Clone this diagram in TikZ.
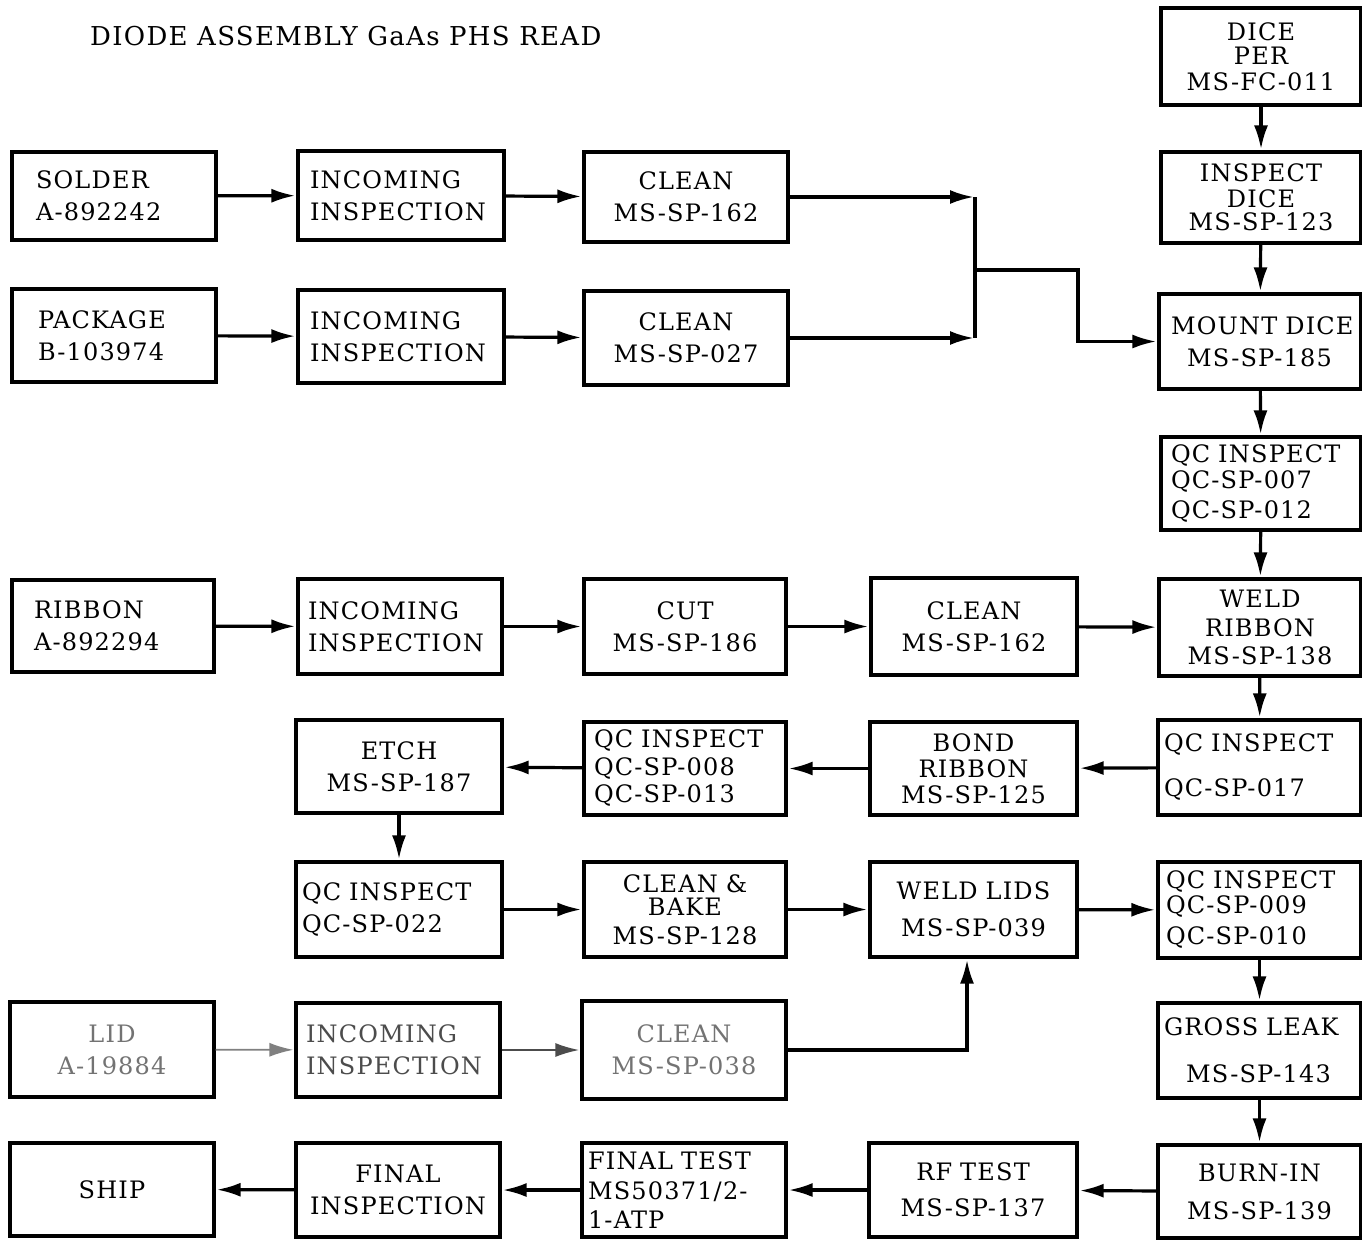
\documentclass[tikz,border=0pt]{standalone}
\usepackage{fontspec}
\setmainfont{DejaVu Serif}[LetterSpace=5]
\usetikzlibrary{arrows.meta}
\newcommand\boxfont{\fontsize{24}{32}\selectfont}
\begin{document}
\begin{tikzpicture}[x=1pt,y=-1pt,
  box/.style={draw, line width=3.2pt, inner ysep=0pt, font=\boxfont},
  C/.style={align=center, inner xsep=4pt, text width=#1pt-8pt},
  L/.style={align=left},
  faded/.style={text=black!55},
  arr/.style={line width=3.2pt, -{Latex[length=24pt,width=14pt]}, shorten >=1pt},
  ln/.style={line width=3.2pt},
  title/.style={font=\fontsize{26}{28}\selectfont, inner sep=0pt}
]
\useasboundingbox[fill=white] (0,0) rectangle (1362,1239);

\node[title, anchor=base west] (title) at (90,46) {DIODE ASSEMBLY GaAs PHS READ};

% right column
\node[box, C=200, minimum height=97pt] (dice) at (1261,56.5) {DICE\\[-8pt]PER\\[-6pt]MS-FC-011};
\node[box, C=200, minimum height=91pt] (inspdice) at (1261,197.5) {INSPECT\\[-6pt]DICE\\[-9pt]MS-SP-123};
\node[box, L, inner xsep=12pt, text width=178pt, minimum height=95pt] (mount) at (1260,341.5) {\mbox{MOUNT DICE}\\\hspace*{16pt}MS-SP-185};
\node[box, L, inner xsep=10pt, text width=180pt, minimum height=93pt] (qc007) at (1261,483.5) {\mbox{QC INSPECT}\\[-6pt]QC-SP-007\\[-2pt]QC-SP-012};
\node[box, C=202, minimum height=97pt] (weldrib) at (1260,627.5) {WELD\\[-3pt]RIBBON\\[-4pt]MS-SP-138};
\node[box, L, inner xsep=6pt, text width=191pt, minimum height=95pt] (qc017) at (1259.5,767.5) {\mbox{QC INSPECT}\\[13pt]QC-SP-017};
\node[box, L, inner xsep=8pt, text width=187pt, minimum height=96pt] (qc009) at (1259.5,910) {\mbox{QC INSPECT}\\[-7pt]QC-SP-009\\[-1pt]QC-SP-010};
\node[box, L, inner xsep=6pt, text width=191pt, minimum height=95pt] (gross) at (1259.5,1050.5) {\mbox{GROSS LEAK}\\[15pt]\hspace*{22pt}MS-SP-143};
\node[box, C=203, minimum height=93pt] (burnin) at (1259.5,1191.5) {BURN-IN\\[6pt]MS-SP-139};

% rows 1-2
\node[box, L, inner xsep=24pt, text width=156pt, minimum height=88pt] (solder) at (114,196) {SOLDER\\A-892242};
\node[box, L, inner xsep=12pt, text width=182pt, minimum height=89pt] (inc1) at (401,195.5) {INCOMING\\INSPECTION};
\node[box, C=204, minimum height=90pt] (clean162) at (686,197) {CLEAN\\MS-SP-162};
\node[box, L, inner xsep=26pt, text width=152pt, minimum height=93pt] (package) at (114,335.5) {PACKAGE\\B-103974};
\node[box, L, inner xsep=12pt, text width=182pt, minimum height=93pt] (inc2) at (401,336.5) {INCOMING\\INSPECTION};
\node[box, C=204, minimum height=94pt] (clean027) at (686,338) {CLEAN\\MS-SP-027};

% ribbon row
\node[box, L, inner xsep=22pt, text width=158pt, minimum height=92pt] (ribbon) at (113,626) {RIBBON\\A-892294};
\node[box, L, inner xsep=10pt, text width=184pt, minimum height=95pt] (inc3) at (400,626.5) {INCOMING\\INSPECTION};
\node[box, C=202, minimum height=95pt] (cut) at (685,626.5) {CUT\\MS-SP-186};
\node[box, C=206, minimum height=97pt] (clean162b) at (974,626.5) {CLEAN\\MS-SP-162};

% etch row
\node[box, C=206, minimum height=93pt] (etch) at (399,766.5) {ETCH\\MS-SP-187};
\node[box, L, inner xsep=10pt, text width=182pt, minimum height=93pt] (qc008) at (685,768.5) {\mbox{QC INSPECT}\\[-4pt]QC-SP-008\\[-5pt]QC-SP-013};
\node[box, C=207, minimum height=93pt] (bond) at (973.5,768.5) {BOND\\[-6pt]RIBBON\\[-6pt]MS-SP-125};

% qc022 row
\node[box, L, inner xsep=6pt, text width=194pt, minimum height=95pt] (qc022) at (399,909.5) {QC INSPECT\\QC-SP-022};
\node[box, C=202, minimum height=95pt] (cleanbake) at (685,909.5) {CLEAN \&\\[-9pt]BAKE\\[-3pt]MS-SP-128};
\node[box, C=207, minimum height=95pt] (weldlids) at (973.5,909.5) {WELD LIDS\\[5pt]MS-SP-039};

% lid row
\node[box, faded, C=204, minimum height=95pt] (lid) at (112,1049.5) {LID\\A-19884};
\node[box, L, text=black!70, inner xsep=10pt, text width=184pt, minimum height=94pt] (inc4) at (398,1050) {INCOMING\\INSPECTION};
\node[box, faded, C=204, minimum height=98pt] (clean038) at (684,1050) {CLEAN\\MS-SP-038};

% bottom row
\node[box, C=204, minimum height=93pt] (ship) at (112,1189.5) {SHIP};
\node[box, C=204, minimum height=94pt] (finalinsp) at (398,1190) {FINAL\\INSPECTION};
\node[box, L, inner xsep=6pt, text width=192pt, minimum height=94pt] (finaltest) at (684,1190) {\mbox{FINAL TEST}\\[-2pt]MS50371/2-\\[-3pt]1-ATP};
\node[box, C=208, minimum height=94pt] (rftest) at (973,1190) {RF TEST\\[4pt]MS-SP-137};

% junction coordinates
\coordinate (m) at (975,0);
\coordinate (j3) at (975,270);
\coordinate (j4) at (1078,270);
\coordinate (k) at (967,0);

% connectors
\draw[arr] (solder) -- (inc1);
\draw[arr] (inc1) -- (clean162);
\draw[arr] (package) -- (inc2);
\draw[arr] (inc2) -- (clean027);
\draw[arr] (clean162.east) -- (clean162.east -| m);
\draw[arr] (clean027.east) -- (clean027.east -| m);
\draw[ln] (clean162.east -| m) -- (clean027.east -| m);
\draw[arr] (j3) -- (j4) |- (mount.west);

\draw[arr] (dice) -- (inspdice);
\draw[arr] (inspdice) -- (mount);
\draw[arr] (mount) -- (qc007);
\draw[arr] (qc007) -- (weldrib);

\draw[arr] (ribbon) -- (inc3);
\draw[arr] (inc3) -- (cut);
\draw[arr] (cut) -- (clean162b);
\draw[arr] (clean162b) -- (weldrib);

\draw[arr] (weldrib) -- (qc017);
\draw[arr] (qc017) -- (bond);
\draw[arr] (bond) -- (qc008);
\draw[arr] (qc008) -- (etch);
\draw[arr] (etch) -- (qc022);
\draw[arr] (qc022) -- (cleanbake);
\draw[arr] (cleanbake) -- (weldlids);
\draw[arr] (weldlids) -- (qc009);
\draw[arr] (qc009) -- (gross);
\draw[arr] (gross) -- (burnin);
\draw[arr] (burnin) -- (rftest);
\draw[arr] (rftest) -- (finaltest);
\draw[arr] (finaltest) -- (finalinsp);
\draw[arr] (finalinsp) -- (ship);

\draw[arr, draw=black!50, line width=1.8pt] (lid) -- (inc4);
\draw[arr, draw=black!70, line width=2.2pt] (inc4) -- (clean038);
\draw[arr] (clean038.east) -| (k |- weldlids.south);
\end{tikzpicture}
\end{document}
